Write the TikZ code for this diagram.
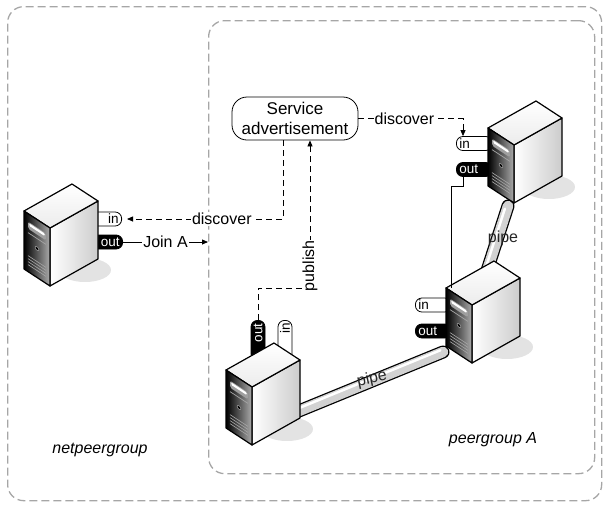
\documentclass[tikz,border=0pt]{standalone}
\usepackage{fontspec}
\setmainfont{Liberation Sans}
\usetikzlibrary{arrows.meta,calc}

\tikzset{
  groupbox/.style={draw=gray!70, line width=1.3pt, dash pattern=on 8pt off 4pt,
    rounded corners=16pt, inner sep=0pt},
  grouplbl/.style={font=\fontsize{16}{19}\selectfont\itshape},
  sabox/.style={draw, fill=white, line width=0.8pt, rounded corners=15pt,
    minimum width=126pt, minimum height=43pt, align=center, inner sep=1pt,
    font=\fontsize{17}{19.5}\selectfont},
  lbl/.style={font=\fontsize{16}{18}\selectfont, fill=white, inner sep=1pt},
  conn/.style={line width=0.8pt, dash pattern=on 6pt off 4pt},
  tip/.style={-{Triangle[length=6pt,width=5pt]}},
  tabin/.style={draw, fill=white, line width=0.8pt, rounded corners=6.5pt,
    minimum height=14pt, inner xsep=3pt, inner ysep=0pt,
    font=\fontsize{13.5}{14}\selectfont},
  tabout/.style={tabin, fill=black, text=white},
  pipe/.style={line cap=round, draw=gray!35, line width=10.5pt,
    preaction={draw=black, line width=13pt, line cap=round},
    postaction={draw=white, line width=2.5pt, line cap=round,
      shorten <=2pt, shorten >=2pt, transform canvas={shift={#1}}}},
  pipelbl/.style={font=\fontsize{16}{18}\selectfont, text=black!85},
  srvedge/.style={draw=black, line width=1.2pt, line join=round},
  % tower server drawn around its front top corner
  server/.pic={
    \fill[gray!22] (35,42) ellipse [x radius=26, y radius=12];
    \shade[srvedge, left color=white, right color=gray!40]
      (0,0) -- (48,-27) -- (48,31) -- (0,58) -- cycle;
    \shade[srvedge, top color=white, bottom color=gray!15]
      (0,0) -- (-26,-17) -- (22,-44) -- (48,-27) -- cycle;
    \shade[srvedge, left color=black, right color=gray!65]
      (0,0) -- (-26,-17) -- (-26,41) -- (0,58) -- cycle;
    \begin{scope}[shift={(-26,-17)}, yslant=-0.654]
      \fill[gray!75, rounded corners=2pt] (4,8) rectangle (22,15);
      \fill[white, rounded corners=1.5pt] (5,9) rectangle (21,11.5);
      \draw[gray!70, line width=0.7pt] (4,19) -- (22,19);
      \draw[gray!80, line width=0.6pt, fill=black] (13,29) circle (1.8);
      \foreach \v in {42,45,48,51}
        \draw[gray!70, line width=0.6pt] (4,\v) -- (22,\v);
    \end{scope}
    \coordinate (-L) at (-26,-17);
  }
}

\begin{document}
\begin{tikzpicture}[x=1pt, y=-1pt]
\useasboundingbox (0,0) rectangle (604,504);

% peer groups
\node[groupbox, anchor=north west, minimum width=594pt, minimum height=494pt] (outer) at (7,6) {};
\node[groupbox, anchor=north west, minimum width=386pt, minimum height=453pt] (inner) at (208,20) {};
\node[grouplbl] (netlbl) at (100,450) {netpeergroup};
\node[grouplbl] (grplbl) at (493,440) {peergroup A};

% advertisement
\node[sabox] (sa) at (295,118.5) {Service\\advertisement};

% server positions (front top corner of each tower)
\coordinate (lftO) at (50,228);
\coordinate (trO) at (514,145);
\coordinate (midO) at (472,305);
\coordinate (botO) at (252,387);

% pipe ends
\coordinate (trBase) at ($(trO)+(-6,61)$);
\coordinate (midTop) at ($(midO)+(11,-22)$);
\coordinate (midFront) at ($(midO)+(-29,47)$);
\coordinate (botSide) at ($(botO)+(20,35)$);

% in/out tabs, drawn before the servers that cover their inner ends
\node[tabin, anchor=east] (lin) at (122,219) {\makebox[26pt][r]{in}};
\node[tabout, anchor=east] (lout) at (123,242) {\makebox[26pt][r]{out}};
\node[tabin, anchor=west] (tin) at (456,143.5) {\makebox[30pt][l]{in}};
\node[tabout, anchor=west] (tout) at (456,169.5) {\makebox[30pt][l]{out}};
\node[tabin, anchor=west] (min) at (415,305) {\makebox[30pt][l]{in}};
\node[tabout, anchor=west] (mout) at (415,331) {\makebox[30pt][l]{out}};
\node[tabout, rotate=90, anchor=east] (bout) at (258,320) {\makebox[34pt][r]{out}};
\node[tabin, rotate=90, anchor=east] (bin) at (285,320) {\makebox[34pt][r]{in}};

% servers and pipes, back to front
\pic (tr) at (trO) {server};
\draw[pipe={(-2.5pt,-0.8pt)}] (trBase) -- (midTop);
\pic (mid) at (midO) {server};
\draw[pipe={(-0.8pt,2.5pt)}] (botSide) -- (midFront);
\pic (bot) at (botO) {server};
\pic (lft) at (lftO) {server};

\node[pipelbl] (p1) at (503,238) {pipe};
\node[pipelbl, rotate=12] (p2) at (372,379) {pipe};

% messages
\draw[conn, tip] (sa.east) -| node[lbl, pos=0.22] {discover} ([xshift=7pt]tin.north west);
\draw[conn, tip, shorten >=5pt] ([xshift=-12pt]sa.south) |- node[lbl, pos=0.69] {discover} (lin.east);
\draw[tip, line width=0.8pt] (lout.east) -- node[lbl] {Join A} (lout.east -| inner.west);
\coordinate (pubc) at (310,288);
\draw[conn, tip] (bout.east) |- (pubc) -- node[lbl, pos=0.15, rotate=90] {publish} (pubc |- sa.south);
\draw[line width=0.8pt] ([xshift=7pt]tout.south west) -- ++(0,9) -| ([xshift=5pt]mid-L);
\end{tikzpicture}
\end{document}
